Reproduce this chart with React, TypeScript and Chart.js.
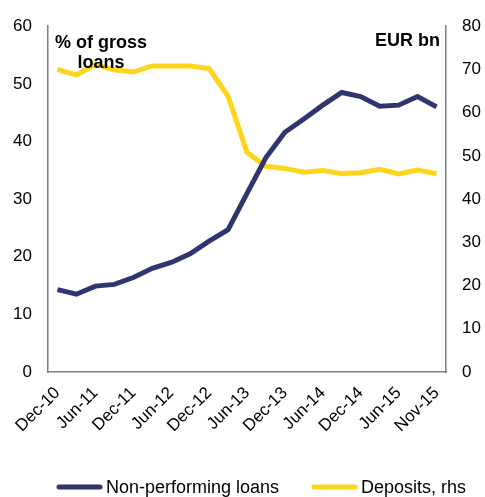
import React, { useEffect, useRef } from "react";
import { Chart, registerables } from "chart.js";

Chart.register(...registerables);

const categories = [
  "Dec-10", "Mar-11", "Jun-11", "Sep-11", "Dec-11", "Mar-12", "Jun-12", "Sep-12",
  "Dec-12", "Mar-13", "Jun-13", "Sep-13", "Dec-13", "Mar-14", "Jun-14", "Sep-14",
  "Dec-14", "Mar-15", "Jun-15", "Sep-15", "Nov-15",
];

const nplValues = [
  14.3, 13.5, 14.9, 15.2, 16.4, 18.0, 19.0, 20.5, 22.7, 24.7, 31.0,
  37.2, 41.6, 43.9, 46.3, 48.5, 47.8, 46.1, 46.3, 47.8, 46.0,
];

const depositValues = [
  70.0, 68.7, 71.2, 69.9, 69.4, 70.8, 70.8, 70.8, 70.2, 63.8, 50.8,
  47.6, 47.1, 46.2, 46.6, 45.9, 46.1, 46.9, 45.8, 46.7, 45.9,
];

const seriesLabels = ["Non-performing loans", "Deposits, rhs"];
const leftTitle = ["% of gross", "loans"];
const rightTitle = "EUR bn";

const NAVY = "#2E356F";
const YELLOW = "#FFD51C";
const FONT = "'Liberation Sans', Arial, Helvetica, sans-serif";

const annotationPlugin = {
  id: "annotations",
  afterDraw(chart: any) {
    const { ctx, chartArea } = chart;
    ctx.save();
    ctx.fillStyle = "#000";
    ctx.font = `bold 18px ${FONT}`;
    ctx.textAlign = "center";
    ctx.textBaseline = "alphabetic";
    const cx = chartArea.left + 53;
    ctx.fillText(leftTitle[0], cx, chartArea.top + 22);
    ctx.fillText(leftTitle[1], cx, chartArea.top + 42);
    ctx.textAlign = "right";
    ctx.fillText(rightTitle, chartArea.right - 6, chartArea.top + 20);

    // legend
    const legendY = 487;
    const items = [
      { x: 57, color: chart.data.datasets[0].borderColor, text: chart.data.datasets[0].label },
      { x: 312, color: chart.data.datasets[1].borderColor, text: chart.data.datasets[1].label },
    ];
    ctx.font = `18px ${FONT}`;
    ctx.textAlign = "left";
    ctx.textBaseline = "middle";
    for (const it of items) {
      ctx.strokeStyle = it.color;
      ctx.lineWidth = 5;
      ctx.lineCap = "round";
      ctx.beginPath();
      ctx.moveTo(it.x + 2, legendY);
      ctx.lineTo(it.x + 43, legendY);
      ctx.stroke();
      ctx.fillStyle = "#000";
      ctx.fillText(it.text, it.x + 49, legendY + 1);
    }
    ctx.restore();
  },
};

export default function App() {
  const ref = useRef<HTMLCanvasElement | null>(null);
  useEffect(() => {
    if (!ref.current) return;
    Chart.defaults.font.family = FONT;
    Chart.defaults.color = "#000";
    const chart = new Chart(ref.current, {
      type: "line",
      data: {
        labels: categories,
        datasets: [
          {
            label: seriesLabels[0],
            data: nplValues,
            borderColor: NAVY,
            backgroundColor: NAVY,
            borderWidth: 5,
            pointRadius: 0,
            tension: 0,
            yAxisID: "y",
          },
          {
            label: seriesLabels[1],
            data: depositValues,
            borderColor: YELLOW,
            backgroundColor: YELLOW,
            borderWidth: 5,
            pointRadius: 0,
            tension: 0,
            yAxisID: "y2",
          },
        ],
      },
      options: {
        animation: false,
        responsive: false,
        layout: { padding: { top: 25, bottom: 50, left: 0, right: 0 } },
        plugins: {
          legend: { display: false },
          tooltip: { enabled: false },
        },
        scales: {
          x: {
            offset: true,
            grid: { display: false, drawTicks: false },
            border: { display: true, color: "#7f7f7f", width: 1.5 },
            ticks: {
              autoSkip: false,
              maxRotation: 45,
              minRotation: 45,
              padding: 11,
              font: { size: 17 },
              color: "#000",
              callback: (_v: any, i: number) => (i % 2 === 0 ? categories[i] : ""),
            },
            afterFit: (s: any) => {
              s.height = 75;
            },
          },
          y: {
            position: "left",
            min: 0,
            max: 60,
            grid: { display: false, drawTicks: false },
            border: { display: true, color: "#7f7f7f", width: 1.5 },
            ticks: { stepSize: 10, padding: 16, font: { size: 17 }, color: "#000" },
            afterFit: (s: any) => {
              s.width = 48;
            },
          },
          y2: {
            position: "right",
            min: 0,
            max: 80,
            grid: { display: false, drawTicks: false },
            border: { display: true, color: "#7f7f7f", width: 1.5 },
            ticks: { stepSize: 10, padding: 16, font: { size: 17 }, color: "#000" },
            afterFit: (s: any) => {
              s.width = 39;
            },
          },
        },
      },
      plugins: [annotationPlugin],
    });
    return () => chart.destroy();
  }, []);
  return (
    <div style={{ position: "absolute", left: 0, top: 0, width: 485, height: 497, background: "#fff" }}>
      <canvas ref={ref} width={485} height={497} style={{ display: "block" }} />
    </div>
  );
}
